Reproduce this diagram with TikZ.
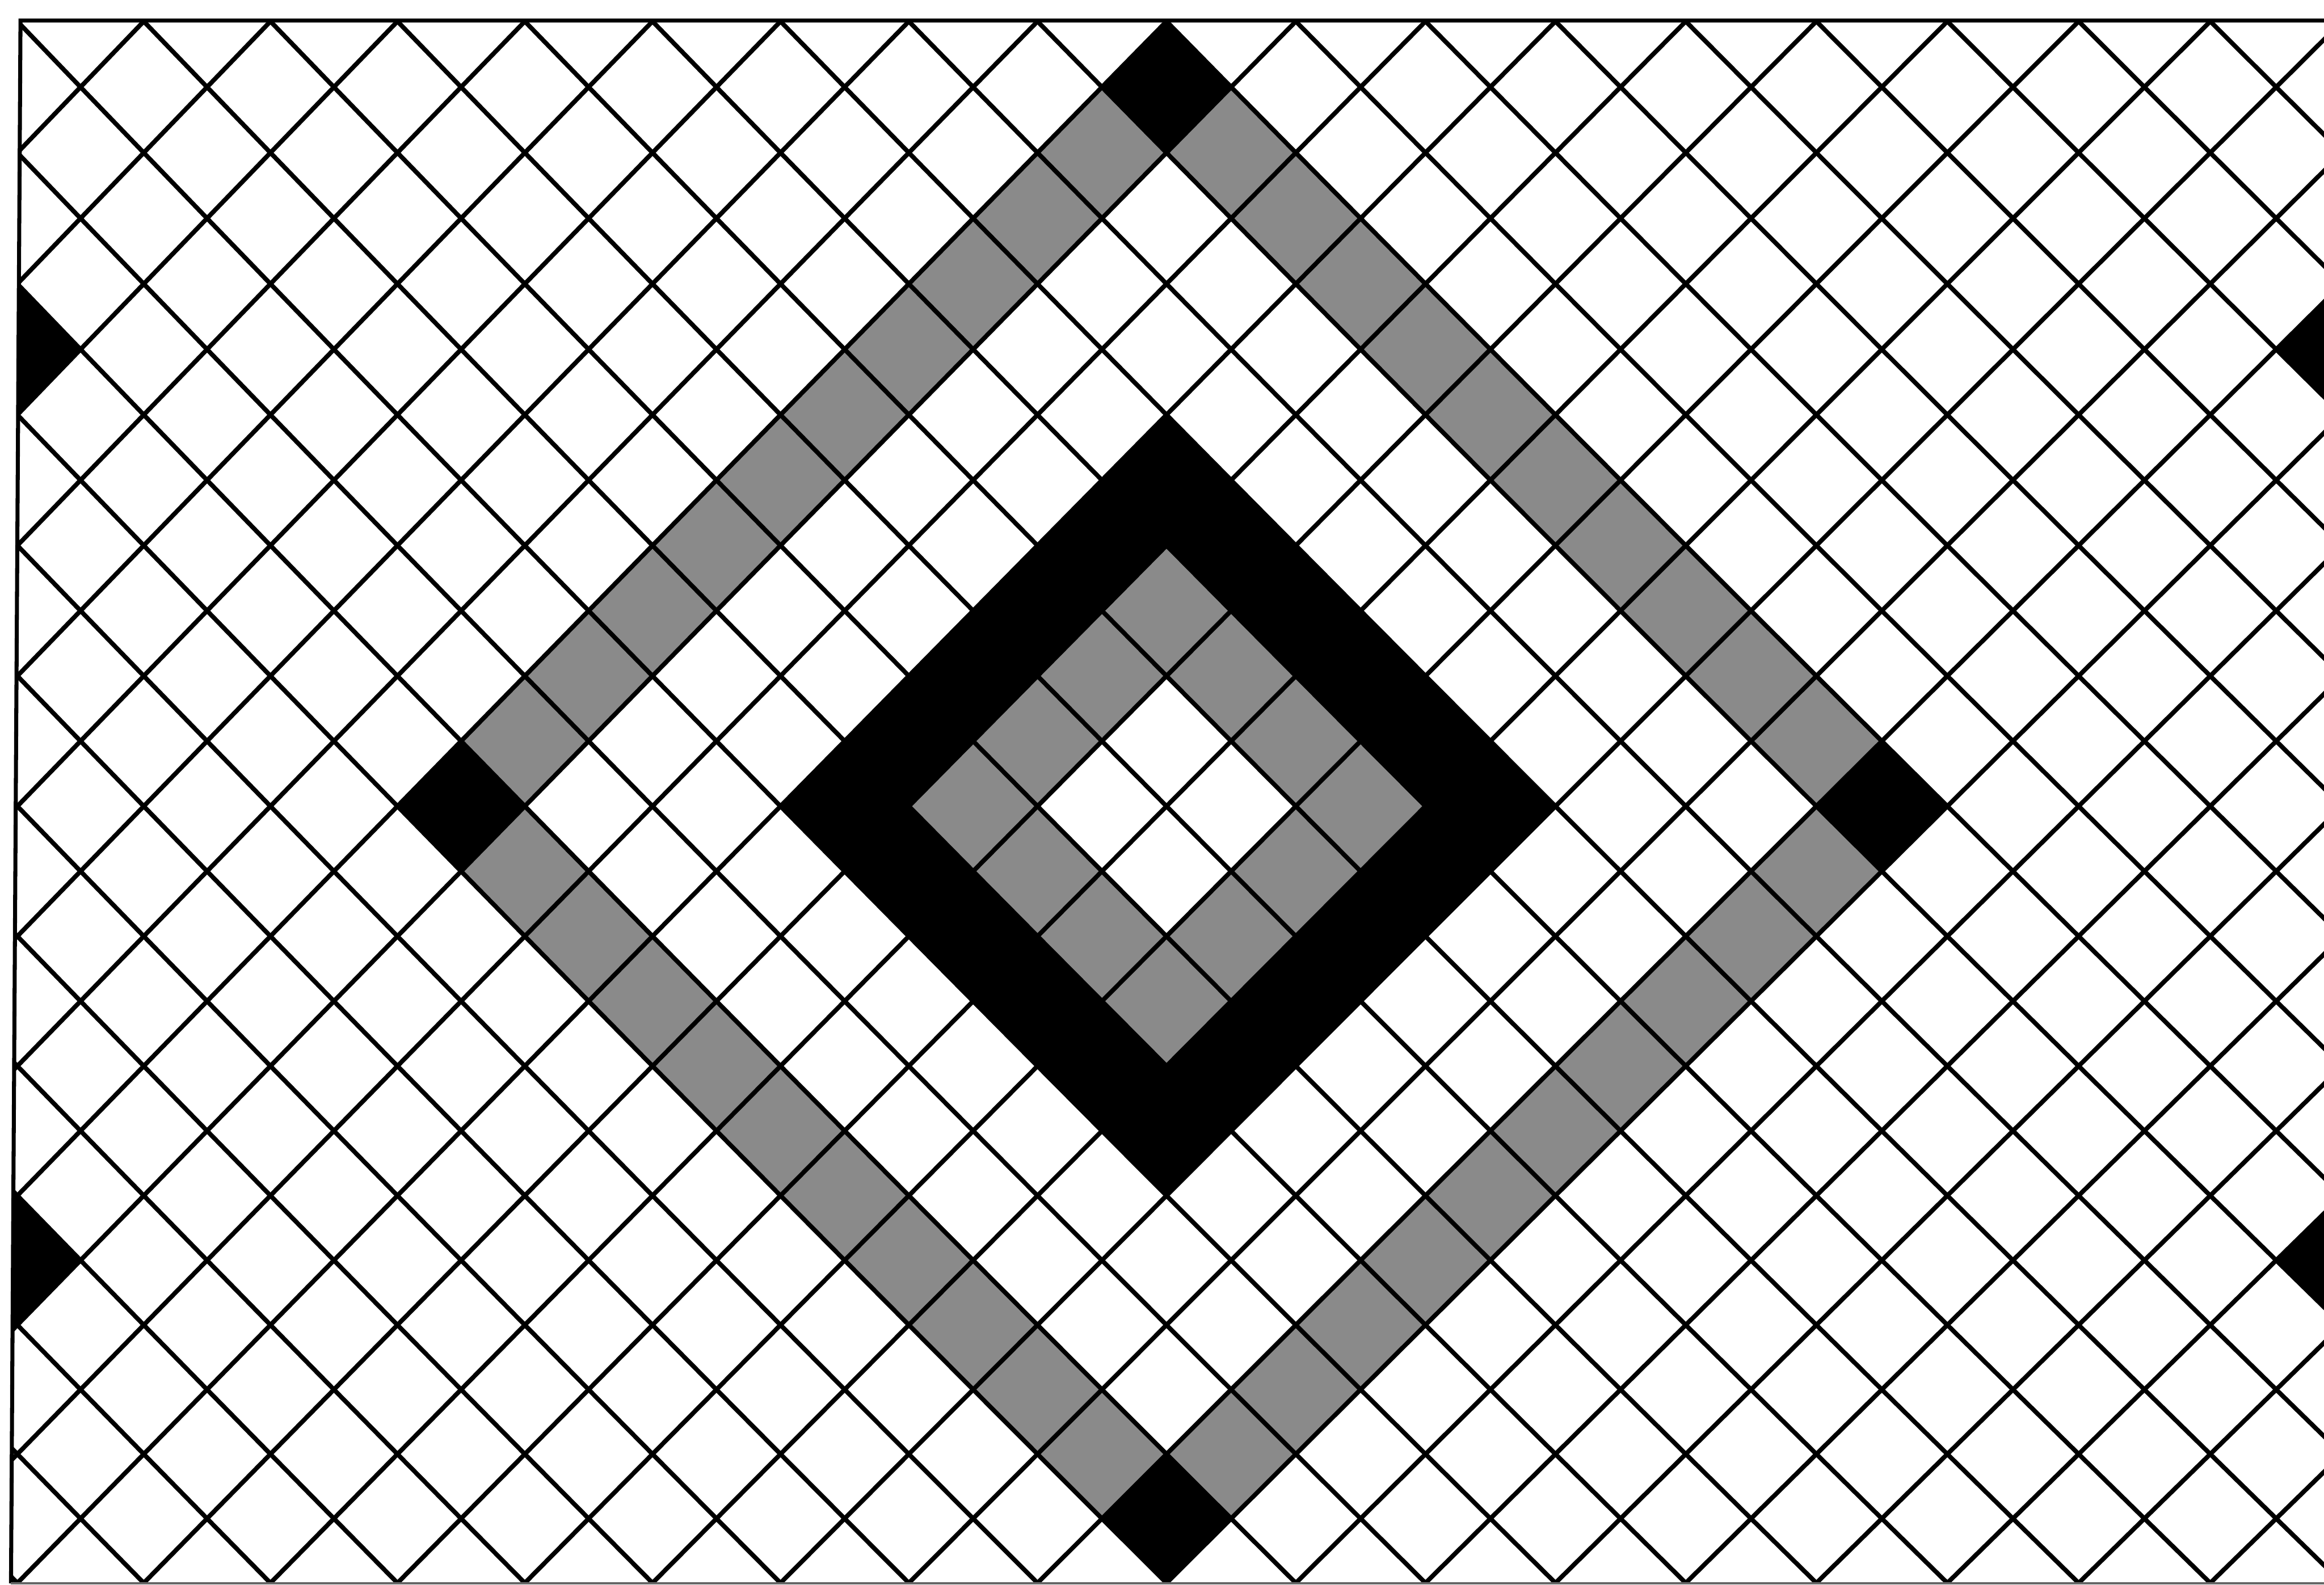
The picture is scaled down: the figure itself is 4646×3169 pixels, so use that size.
\documentclass[tikz,border=0pt]{standalone}
\usetikzlibrary{calc}
\tikzset{
  declare function={
    GX(\mI,\mJ)=2332+129.1*(\mI-\mJ)+0.082*(\mI-\mJ)*(\mI-\mJ);
    GY(\mI,\mJ)=1612+130.1*(\mI+\mJ)-0.056*(\mI+\mJ)*(\mI+\mJ);
  },
  gridline/.style={line width=9pt,black,line join=round},
  borderline/.style={line width=8pt,black,line cap=butt},
  greytile/.style={fill=black!46},
  blacktile/.style={fill=black},
}
\newcommand\mytile[3]{%
  \fill[#3] ({GX(#1,#2)},{GY(#1,#2)}) -- ({GX(#1+1,#2)},{GY(#1+1,#2)})
     -- ({GX(#1+1,#2+1)},{GY(#1+1,#2+1)}) -- ({GX(#1,#2+1)},{GY(#1,#2+1)}) -- cycle;}
\begin{document}
\begin{tikzpicture}[x=1pt,y=-1pt]
\useasboundingbox (0,0) rectangle (4646,3169);
\fill[white] (0,0) rectangle (4646,3169);
\begin{scope}
  \clip (41,41) -- (4646,41) -- (4646,3167) -- (22,3167) -- cycle;
  % outer ring of grey tiles
  \foreach \t in {-5,...,4} {
    \mytile{-6}{\t}{greytile}
    \mytile{5}{\t}{greytile}
    \mytile{\t}{-6}{greytile}
    \mytile{\t}{5}{greytile}
  }
  % inner ring of grey tiles
  \foreach \t in {-2,...,1} {
    \mytile{-2}{\t}{greytile}
    \mytile{1}{\t}{greytile}
  }
  \foreach \t in {-1,0} {
    \mytile{\t}{-2}{greytile}
    \mytile{\t}{1}{greytile}
  }
  % grid lines
  \foreach \k in {-17,...,17} {
    \draw[gridline] plot[domain=-17:17,samples=35] ({GX(\k,\x)},{GY(\k,\x)});
    \draw[gridline] plot[domain=-17:17,samples=35] ({GX(\x,\k)},{GY(\x,\k)});
  }
  % black corner tiles of the large ring
  \mytile{-6}{-6}{blacktile}
  \mytile{-6}{5}{blacktile}
  \mytile{5}{-6}{blacktile}
  \mytile{5}{5}{blacktile}
  % black tiles cut by the edges
  \mytile{-13}{5}{blacktile}
  \mytile{-6}{12}{blacktile}
  \mytile{5}{-13}{blacktile}
  \mytile{12}{-6}{blacktile}
  % black band round the centre
  \fill[black,even odd rule]
    ({GX(-3,-3)},{GY(-3,-3)}) -- ({GX(3,-3)},{GY(3,-3)}) -- ({GX(3,3)},{GY(3,3)}) -- ({GX(-3,3)},{GY(-3,3)}) -- cycle
    ({GX(-2,-2)},{GY(-2,-2)}) -- ({GX(2,-2)},{GY(2,-2)}) -- ({GX(2,2)},{GY(2,2)}) -- ({GX(-2,2)},{GY(-2,2)}) -- cycle;
\end{scope}
% border
\coordinate (tl) at (41,41);
\coordinate (tr) at (4646,41);
\coordinate (bl) at (22,3166);
\coordinate (br) at (4646,3166);
\draw[borderline] (tr) -- (tl) -- (bl);
\draw[line width=5pt,black!60] (bl) -- (br);
\end{tikzpicture}
\end{document}
